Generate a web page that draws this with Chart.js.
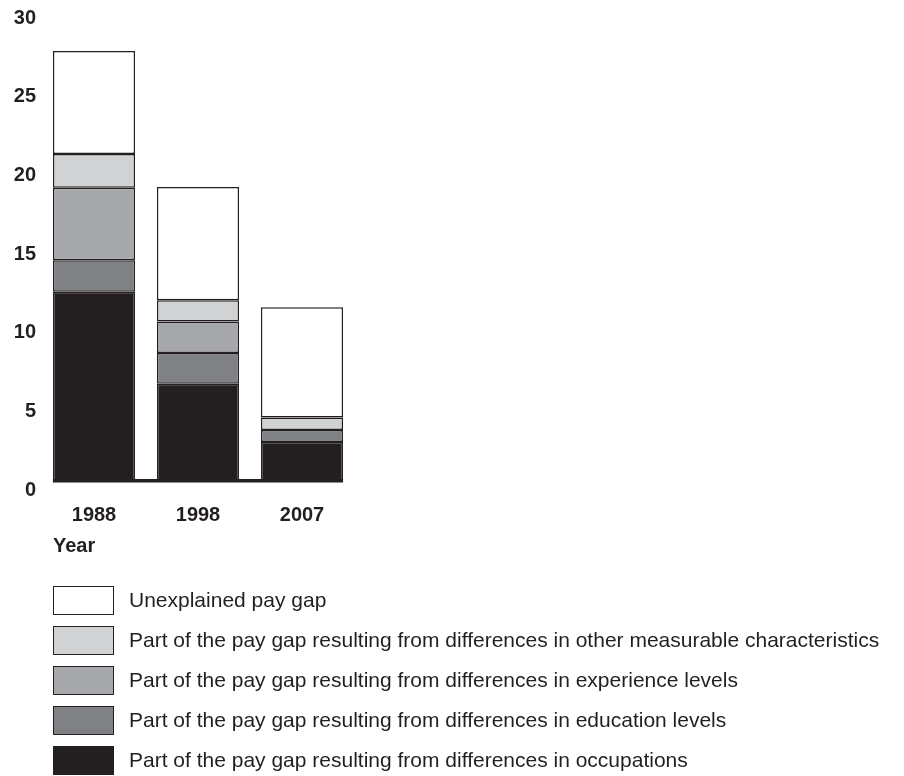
<!DOCTYPE html>
<html>
<head>
<meta charset="utf-8">
<script src="https://cdn.jsdelivr.net/npm/chart.js@4.4.1/dist/chart.umd.min.js"></script>
<style>
  html, body { margin: 0; padding: 0; background: #ffffff; }
  #wrap { position: relative; width: 904px; height: 776px; font-family: "Liberation Sans", Arial, sans-serif; color: #231f20; }
  #wrap canvas { position: absolute; left: 0; top: 0; }
  #xtitle { position: absolute; left: 53px; top: 533px; font-weight: bold; font-size: 20px; line-height: 24px; }
  #legend { position: absolute; left: 53px; top: 585px; }
  .item { display: flex; align-items: center; height: 30px; margin-bottom: 10px; }
  .box { width: 59px; height: 27px; border: 1.5px solid #231f20; margin-right: 15px; }
  .label { font-size: 21px; }
</style>
</head>
<body>
<div id="wrap">
  <canvas id="grafico" width="904" height="776"></canvas>
  <div id="xtitle">Year</div>
  <div id="legend"></div>
</div>
<script>
// --- DATOS ---
const years = ["1988", "1998", "2007"];
const occupations = [12.1, 6.25, 2.55];
const education = [2.0, 1.95, 0.75];
const experience = [4.6, 2.0, 0];
const otherCharacteristics = [2.15, 1.35, 0.8];
const unexplained = [6.55, 7.2, 7.0];
const yTicks = [0, 5, 10, 15, 20, 25, 30];

const series = [
  { label: "Part of the pay gap resulting from differences in occupations", data: occupations, color: "#231f20" },
  { label: "Part of the pay gap resulting from differences in education levels", data: education, color: "#808184" },
  { label: "Part of the pay gap resulting from differences in experience levels", data: experience, color: "#a7a8ab" },
  { label: "Part of the pay gap resulting from differences in other measurable characteristics", data: otherCharacteristics, color: "#d1d2d4" },
  { label: "Unexplained pay gap", data: unexplained, color: "#ffffff" },
];

// linea base bajo las barras
const baseLine = {
  id: "baseLine",
  afterDatasetsDraw(chart) {
    const meta = chart.getDatasetMeta(0);
    const first = meta.data[0];
    const last = meta.data[meta.data.length - 1];
    const y = chart.scales.y.getPixelForValue(0);
    const ctx = chart.ctx;
    ctx.save();
    ctx.fillStyle = "#231f20";
    ctx.fillRect(first.x - first.width / 2, y - 3, (last.x + last.width / 2) - (first.x - first.width / 2), 3.5);
    ctx.restore();
  },
};

const ctx = document.getElementById("grafico").getContext("2d");
const grafico = new Chart(ctx, {
  type: "bar",
  data: {
    labels: years,
    datasets: series.map((s) => ({
      label: s.label,
      data: s.data,
      backgroundColor: s.color,
      borderColor: "#231f20",
      borderWidth: 1.5,
      borderSkipped: false,
      categoryPercentage: 1,
      barPercentage: 0.79,
    })),
  },
  options: {
    responsive: false,
    animation: false,
    layout: { padding: { top: 10, right: 550, bottom: 236, left: 0 } },
    plugins: { legend: { display: false }, tooltip: { enabled: false } },
    scales: {
      x: {
        stacked: true,
        grid: { display: false },
        border: { display: false },
        ticks: {
          color: "#231f20",
          padding: 13,
          font: { family: "'Liberation Sans', Arial, sans-serif", size: 20, weight: "bold" },
        },
      },
      y: {
        stacked: true,
        min: 0,
        max: 30,
        afterBuildTicks: (scale) => { scale.ticks = yTicks.map((v) => ({ value: v })); },
        afterFit: (scale) => {
          scale.width = 42;
          scale.paddingTop = 0;
          scale.paddingBottom = 0;
        },
        grid: { display: false, drawTicks: false },
        border: { display: false },
        ticks: {
          color: "#231f20",
          padding: 6,
          labelOffset: 8,
          font: { family: "'Liberation Sans', Arial, sans-serif", size: 20, weight: "bold" },
        },
      },
    },
  },
  plugins: [baseLine],
});

// --- LEYENDA ---
const legend = document.getElementById("legend");
series.slice().reverse().forEach((s) => {
  legend.innerHTML += `
    <div class="item">
      <div class="box" style="background:${s.color}"></div>
      <div class="label">${s.label}</div>
    </div>`;
});
</script>
</body>
</html>
